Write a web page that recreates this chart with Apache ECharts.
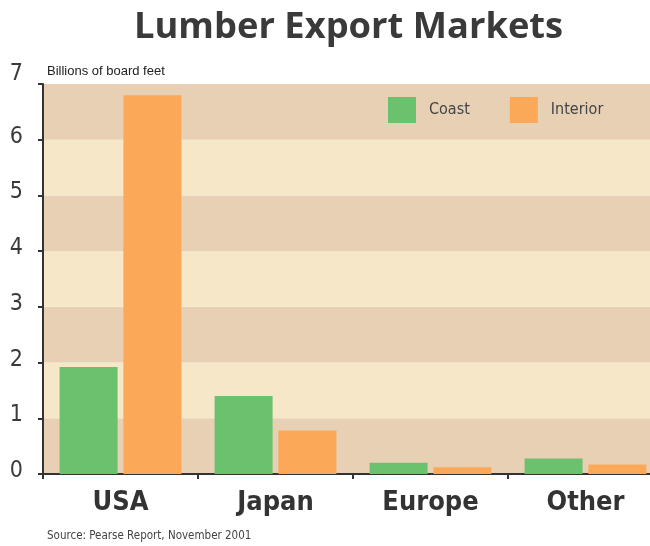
<!DOCTYPE html>
<html>
<head>
<meta charset="utf-8">
<script src="https://cdn.jsdelivr.net/npm/echarts@6/dist/echarts.min.js"></script>
<style>
  html, body { margin: 0; padding: 0; background: #ffffff; }
  #chart { width: 650px; height: 546px; }
</style>
</head>
<body>
<div id="chart"></div>
<script>
// Lumber exports by market, billions of board feet
const markets = ['USA', 'Japan', 'Europe', 'Other'];
const coast = [1.92, 1.40, 0.20, 0.28];
const interior = [6.80, 0.78, 0.12, 0.17];
const yTicks = [0, 1, 2, 3, 4, 5, 6, 7];

const chart = echarts.init(document.getElementById('chart'), null, { renderer: 'canvas' });

chart.setOption({
  animation: false,
  backgroundColor: '#ffffff',
  title: [
    {
      text: 'Lumber Export Markets',
      left: 134, top: 10, padding: 0,
      textStyle: { fontFamily: 'Open Sans', fontWeight: 'bold', fontSize: 36.3, color: '#3a3a3a' }
    },
    {
      text: 'Billions of board feet',
      left: 47, top: 65, padding: 0,
      textStyle: { fontFamily: 'Liberation Sans', fontWeight: 'normal', fontSize: 13, color: '#222222' }
    },
    {
      text: 'Source: Pearse Report, November 2001',
      left: 47, top: 530, padding: 0,
      textStyle: { fontFamily: 'DejaVu Sans Condensed', fontWeight: 'normal', fontSize: 11.5, color: '#444444' }
    }
  ],
  legend: {
    left: 388, top: 97, padding: 0,
    itemWidth: 28, itemHeight: 26, itemGap: 40,
    icon: 'rect',
    textStyle: { fontFamily: 'DejaVu Sans Condensed', fontSize: 16, color: '#444444', padding: [0, 0, 0, 8] },
    data: ['Coast', 'Interior']
  },
  grid: { left: 43, top: 84, width: 620, bottom: 72, containLabel: false, outerBoundsMode: 'none' },
  xAxis: {
    type: 'category',
    data: markets,
    axisLine: { show: true, lineStyle: { color: '#333333', width: 2 } },
    axisTick: { show: true, length: 5, lineStyle: { color: '#333333', width: 2 } },
    axisLabel: {
      margin: 15,
      fontFamily: 'DejaVu Sans Condensed', fontWeight: 'bold', fontSize: 27, color: '#333333'
    }
  },
  yAxis: {
    type: 'value',
    min: yTicks[0], max: yTicks[yTicks.length - 1], interval: 1,
    axisLine: { show: true, lineStyle: { color: '#333333', width: 2 } },
    axisTick: { show: true, length: 5, lineStyle: { color: '#333333', width: 2 } },
    splitLine: { show: false },
    splitArea: { show: true, areaStyle: { color: ['#e8d0b4', '#f6e7c9'] } },
    axisLabel: {
      margin: 20,
      fontFamily: 'DejaVu Sans Condensed', fontSize: 23, color: '#3a3a3a',
      formatter: function (v) { return v === 7 ? '{top|7}' : '{n|' + v + '}'; },
      rich: {
        n: { fontFamily: 'DejaVu Sans Condensed', fontSize: 23, color: '#3a3a3a', padding: [0, 0, 6, 0] },
        top: { fontFamily: 'DejaVu Sans Condensed', fontSize: 23, color: '#3a3a3a', padding: [0, 0, 20, 0] }
      }
    }
  },
  series: [
    {
      name: 'Coast', type: 'bar', data: coast,
      barWidth: 58, barGap: '10%',
      itemStyle: { color: '#6cc16f' }
    },
    {
      name: 'Interior', type: 'bar', data: interior,
      barWidth: 58,
      itemStyle: { color: '#fba958' }
    }
  ]
});
</script>
</body>
</html>
